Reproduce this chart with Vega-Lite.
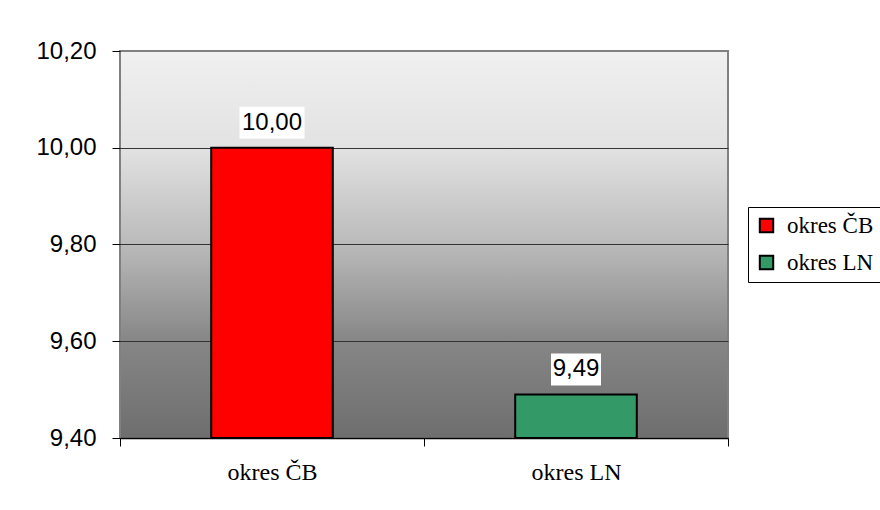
{
  "$schema": "https://vega.github.io/schema/vega-lite/v6.json",
  "width": 608,
  "height": 387,
  "autosize": "none",
  "padding": {"left": 120, "top": 51, "right": 152, "bottom": 72},
  "background": "white",
  "config": {
    "locale": {
      "number": {"decimal": ",", "thousands": " ", "grouping": [3], "currency": ["", " Kč"]}
    },
    "view": {
      "stroke": "#808080",
      "strokeWidth": 2,
      "fill": {
        "gradient": "linear",
        "x1": 0, "y1": 0, "x2": 0, "y2": 1,
        "stops": [
          {"offset": 0, "color": "#f0f0f0"},
          {"offset": 0.25, "color": "#e2e2e2"},
          {"offset": 0.5, "color": "#bababa"},
          {"offset": 0.75, "color": "#868686"},
          {"offset": 1, "color": "#6e6e6e"}
        ]
      }
    }
  },
  "data": {
    "values": [
      {"okres": "okres ČB", "prumer": 10.00},
      {"okres": "okres LN", "prumer": 9.49}
    ]
  },
  "encoding": {
    "x": {
      "field": "okres",
      "type": "nominal",
      "sort": null,
      "scale": {"paddingInner": 0, "paddingOuter": 0},
      "axis": {
        "title": null,
        "labelAngle": 0,
        "labelFont": "Liberation Serif",
        "labelFontSize": 24,
        "labelColor": "black",
        "tickBand": "extent",
        "tickColor": "black",
        "tickSize": 8,
        "domainColor": "black",
        "domainWidth": 1.5,
        "labelPadding": 14,
        "grid": false
      }
    },
    "y": {
      "field": "prumer",
      "type": "quantitative",
      "scale": {"domain": [9.4, 10.2], "zero": false, "nice": false},
      "axis": {
        "title": null,
        "values": [9.4, 9.6, 9.8, 10.0, 10.2],
        "format": ".2f",
        "labelFont": "Liberation Sans",
        "labelFontSize": 24,
        "labelColor": "black",
        "tickColor": "black",
        "tickSize": 8,
        "labelPadding": 16,
        "domain": false,
        "grid": true,
        "gridColor": {"condition": {"test": "datum.value >= 10.19", "value": "#808080"}, "value": "#333333"},
        "gridWidth": 1
      }
    }
  },
  "layer": [
    {
      "mark": {"type": "bar", "width": {"band": 0.4}, "stroke": "black", "strokeWidth": 2},
      "encoding": {
        "y2": {"datum": 9.4},
        "color": {
          "field": "okres",
          "type": "nominal",
          "sort": null,
          "scale": {"range": ["#ff0000", "#339966"]},
          "legend": {
            "title": null,
            "orient": "none",
            "legendX": 628,
            "legendY": 156,
            "strokeColor": "black",
            "padding": 7,
            "symbolType": "square",
            "symbolSize": 180,
            "symbolStrokeColor": "black",
            "symbolStrokeWidth": 2,
            "labelFont": "Liberation Serif",
            "labelFontSize": 23,
            "labelColor": "black",
            "labelOffset": 9,
            "rowPadding": 13
          }
        }
      }
    },
    {
      "mark": {"type": "bar", "fill": "white", "yOffset": -41, "y2Offset": -9},
      "encoding": {
        "y2": {"field": "prumer"},
        "size": {"condition": {"test": "datum.prumer >= 10", "value": 65}, "value": 50}
      }
    },
    {
      "mark": {
        "type": "text",
        "dy": -25,
        "baseline": "middle",
        "font": "Liberation Sans",
        "fontSize": 24,
        "color": "black"
      },
      "encoding": {
        "text": {"field": "prumer", "type": "quantitative", "format": ".2f"}
      }
    }
  ]
}
